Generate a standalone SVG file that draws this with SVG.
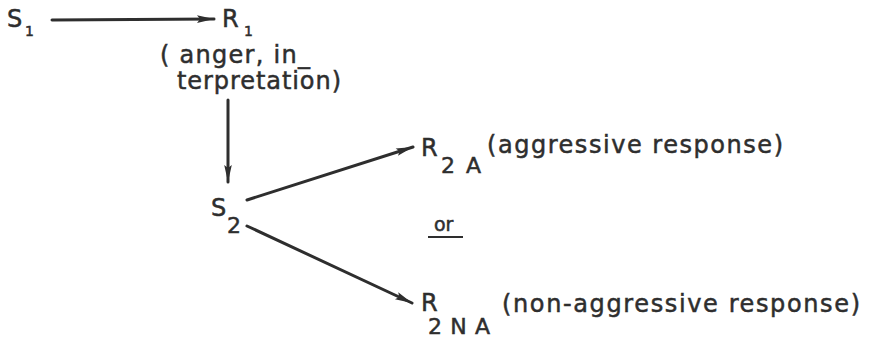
<svg xmlns="http://www.w3.org/2000/svg" width="871" height="339" viewBox="0 0 871 339">
<defs>
<style>
text{font-family:"DejaVu Sans","Liberation Sans",sans-serif;fill:#2e2e2e;stroke:#2e2e2e;stroke-width:0.5;font-size:24px}
.sub{font-size:22px}
.s1{font-size:14px}
.c{stroke:#2e2e2e;stroke-width:3;fill:none;stroke-linecap:round}
</style>
<marker id="ah" markerUnits="userSpaceOnUse" markerWidth="20" markerHeight="10" viewBox="-17 -5 19 10" refX="0" refY="0" orient="auto">
<path d="M-17,-3.8 L0,0 L-17,3.8 L-14,0 Z" fill="#2e2e2e"/>
</marker>
</defs>
<rect width="871" height="339" fill="#ffffff"/>
<g id="connectors">
<line class="c" x1="52" y1="20" x2="214" y2="19" marker-end="url(#ah)"/>
<line class="c" x1="228" y1="100" x2="228" y2="182" marker-end="url(#ah)"/>
<line class="c" x1="247" y1="200" x2="413" y2="147" marker-end="url(#ah)"/>
<line class="c" x1="247" y1="226" x2="412" y2="303" marker-end="url(#ah)"/>
</g>
<g id="S1">
<text x="7" y="27">S</text>
<text class="s1" x="25" y="36">1</text>
</g>
<g id="R1">
<text x="222" y="27">R</text>
<text class="s1" x="244" y="36">1</text>
<text x="160" y="63" textLength="150" lengthAdjust="spacing">( anger, in_</text>
<text x="177" y="89" textLength="164" lengthAdjust="spacing">terpretation)</text>
</g>
<g id="S2">
<text x="211" y="216">S</text>
<text class="sub" x="227" y="233">2</text>
</g>
<g id="R2A">
<text x="421" y="156">R</text>
<text class="sub" x="441" y="173" textLength="40" lengthAdjust="spacing">2A</text>
<text x="487" y="153" textLength="296" lengthAdjust="spacing">(aggressive response)</text>
</g>
<g id="or">
<text x="434" y="231" style="font-size:19px">or</text>
<line x1="428" y1="237" x2="463" y2="237" stroke="#2e2e2e" stroke-width="2"/>
</g>
<g id="R2NA">
<text x="421" y="311">R</text>
<text class="sub" x="428" y="334" textLength="62" lengthAdjust="spacing">2NA</text>
<text x="502" y="312" textLength="358" lengthAdjust="spacing">(non-aggressive response)</text>
</g>
</svg>
